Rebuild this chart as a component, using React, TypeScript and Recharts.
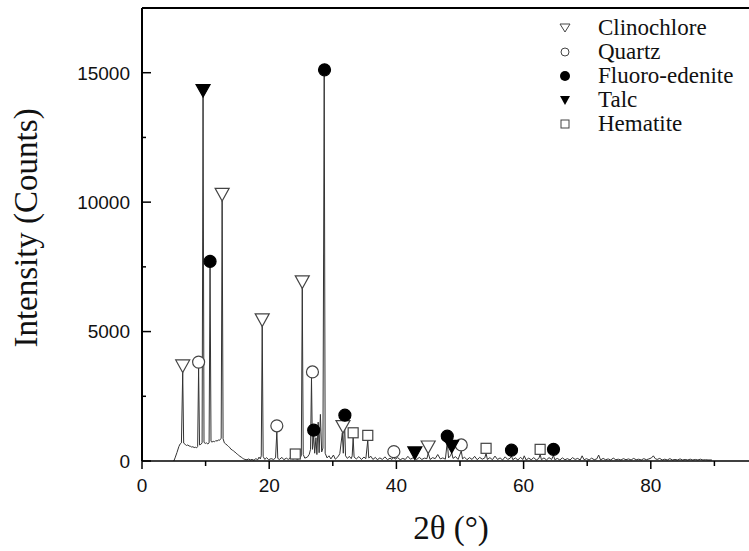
import { ComposedChart, Line, Scatter, XAxis, YAxis, ReferenceLine } from 'recharts';

// diffraction pattern, [2theta, counts]
const pattern: [number, number][] = [
  [5.0, 0], [5.2, 120], [5.5, 330], [5.8, 560], [6.0, 660], [6.2, 700], [6.4, 3430], [6.55, 690],
  [6.8, 640], [7.0, 600], [7.2, 620], [7.4, 580], [7.6, 570], [7.8, 540], [8.0, 550], [8.2, 520],
  [8.4, 530], [8.6, 510], [8.75, 560], [8.9, 3590], [9.05, 620], [9.25, 640], [9.45, 700],
  [9.6, 14070], [9.75, 720], [9.95, 680], [10.15, 700], [10.35, 660], [10.55, 700], [10.7, 7480],
  [10.85, 760], [11.0, 730], [11.2, 760], [11.4, 740], [11.6, 790], [11.8, 770], [12.0, 810],
  [12.2, 800], [12.45, 880], [12.6, 10060], [12.75, 860], [12.95, 700], [13.15, 660], [13.4, 610],
  [13.6, 560], [13.8, 520], [14.0, 450], [14.2, 430], [14.4, 380], [14.6, 350], [14.8, 300],
  [15.0, 260], [15.2, 220], [15.4, 180], [15.6, 150], [15.8, 110], [16.0, 80], [16.2, 60],
  [16.5, 50], [16.8, 80], [17.0, 40], [17.3, 60], [17.6, 30], [17.9, 90], [18.2, 50], [18.4, 150],
  [18.6, 80], [18.75, 200], [18.9, 5210], [19.05, 180], [19.3, 60], [19.6, 130], [19.9, 50],
  [20.3, 90], [20.7, 60], [21.0, 120], [21.2, 1130], [21.35, 100], [21.6, 60], [22.0, 140],
  [22.3, 50], [22.7, 110], [23.0, 60], [23.4, 150], [23.7, 70], [24.1, 120], [24.4, 60],
  [24.8, 110], [25.05, 200], [25.2, 6680], [25.35, 250], [25.6, 110], [26.0, 150], [26.3, 260],
  [26.5, 450], [26.65, 3210], [26.8, 450], [27.0, 960], [27.15, 300], [27.35, 900], [27.5, 250],
  [27.7, 1500], [27.85, 320], [28.05, 1800], [28.25, 350], [28.45, 500], [28.65, 14880],
  [28.8, 300], [29.1, 120], [29.4, 200], [29.7, 80], [30.1, 230], [30.4, 70], [30.8, 160],
  [31.1, 280], [31.5, 1090], [31.65, 300], [31.85, 1540], [32.0, 200], [32.3, 100], [32.6, 180],
  [32.9, 90], [33.05, 200], [33.2, 900], [33.35, 150], [33.7, 80], [34.1, 170], [34.5, 60],
  [34.9, 150], [35.2, 90], [35.5, 800], [35.65, 120], [36.0, 180], [36.3, 60], [36.7, 140],
  [37.0, 50], [37.4, 120], [37.8, 60], [38.2, 160], [38.6, 50], [39.0, 110], [39.3, 60],
  [39.6, 150], [39.8, 70], [40.2, 130], [40.6, 50], [41.0, 100], [41.4, 60], [41.8, 180],
  [42.2, 70], [42.6, 120], [42.9, 90], [43.2, 60], [43.6, 140], [44.0, 60], [44.4, 110],
  [44.8, 90], [45.0, 300], [45.3, 60], [45.7, 130], [46.1, 90], [46.5, 250], [46.9, 80],
  [47.3, 120], [47.7, 70], [48.0, 730], [48.2, 120], [48.5, 200], [48.7, 320], [48.9, 100],
  [49.3, 170], [49.7, 60], [50.2, 390], [50.4, 80], [50.7, 150], [51.1, 50], [51.5, 130],
  [51.9, 60], [52.3, 180], [52.7, 50], [53.1, 140], [53.5, 70], [53.9, 120], [54.1, 300],
  [54.3, 60], [54.7, 130], [55.1, 50], [55.5, 190], [55.9, 60], [56.3, 120], [56.7, 40],
  [57.1, 160], [57.5, 60], [57.9, 110], [58.1, 190], [58.3, 50], [58.7, 120], [59.1, 40],
  [59.5, 140], [59.9, 60], [60.1, 200], [60.4, 40], [60.8, 110], [61.2, 50], [61.6, 130],
  [62.0, 40], [62.4, 100], [62.6, 260], [62.8, 50], [63.2, 120], [63.6, 40], [64.0, 130],
  [64.4, 60], [64.7, 220], [64.9, 50], [65.3, 100], [65.7, 40], [66.1, 120], [66.5, 50],
  [66.9, 90], [67.3, 40], [67.7, 130], [68.1, 60], [68.5, 100], [68.9, 40], [69.2, 200],
  [69.5, 50], [69.9, 90], [70.3, 40], [70.7, 110], [71.1, 50], [71.5, 80], [71.8, 230],
  [72.1, 40], [72.5, 100], [72.9, 50], [73.3, 80], [73.7, 40], [74.1, 110], [74.5, 50],
  [74.9, 70], [75.3, 40], [75.7, 90], [76.1, 50], [76.5, 80], [76.9, 40], [77.3, 100],
  [77.7, 50], [78.1, 70], [78.5, 40], [78.9, 90], [79.3, 50], [79.7, 80], [80.1, 120],
  [80.4, 200], [80.7, 90], [81.0, 60], [81.4, 100], [81.8, 40], [82.2, 70], [82.6, 40],
  [83.0, 90], [83.4, 40], [83.8, 60], [84.2, 40], [84.6, 80], [85.0, 40], [85.4, 60],
  [85.8, 40], [86.2, 70], [86.6, 40], [87.0, 60], [87.4, 40], [87.8, 70], [88.2, 40],
  [88.6, 50], [89.0, 40], [89.6, 40],
];

// phase markers, [2theta, counts]
const clinochlore: [number, number][] = [[6.4, 3660], [12.6, 10290], [18.9, 5440], [25.2, 6910], [31.6, 1320], [45.0, 530]];
const quartz: [number, number][] = [[8.9, 3820], [21.2, 1360], [26.8, 3440], [39.6, 360], [50.2, 620]];
const fluoroEdenite: [number, number][] = [[10.7, 7710], [27.0, 1190], [28.7, 15110], [31.9, 1770], [48.0, 960], [58.1, 420], [64.7, 450]];
const talc: [number, number][] = [[9.6, 14300], [42.9, 300], [48.7, 550]];
const hematite: [number, number][] = [[24.1, 270], [33.2, 1090], [35.5, 990], [54.1, 490], [62.6, 450]];

const xTicks = [0, 10, 20, 30, 40, 50, 60, 70, 80, 90, 100];
const yTicks = [0, 2500, 5000, 7500, 10000, 12500, 15000, 17500];

const AXIS_X = 142;
const AXIS_Y = 461;
const serif = '"Liberation Serif", "Times New Roman", serif';
const sans = '"Liberation Sans", Arial, sans-serif';

const toPoints = (rows: [number, number][]) => rows.map(([x, y]) => ({ x, y }));

function DownTriangle({ cx, cy, filled }: any) {
  const w = 7;
  const h = 6.3;
  return (
    <polygon
      points={`${cx - w},${cy - h} ${cx + w},${cy - h} ${cx},${cy + h}`}
      fill={filled ? '#000' : '#fff'}
      stroke={filled ? '#000' : '#444'}
      strokeWidth={1.2}
    />
  );
}

function Dot({ cx, cy, filled }: any) {
  return <circle cx={cx} cy={cy} r={6} fill={filled ? '#000' : '#fff'} stroke={filled ? '#000' : '#444'} strokeWidth={1.2} />;
}

function Square({ cx, cy }: any) {
  const s = 5;
  return <rect x={cx - s} y={cy - s} width={s * 2} height={s * 2} fill="#fff" stroke="#444" strokeWidth={1.2} />;
}

function XTick({ x, payload }: any) {
  const major = payload.value % 20 === 0;
  return (
    <g>
      <line x1={x} x2={x} y1={AXIS_Y} y2={AXIS_Y + (major ? 8 : 5)} stroke="#000" strokeWidth={1.5} />
      {major && payload.value < 100 && (
        <text x={x} y={AXIS_Y + 31} textAnchor="middle" fontFamily={sans} fontSize={19} fill="#111">
          {payload.value}
        </text>
      )}
    </g>
  );
}

function YTick({ y, payload }: any) {
  const major = payload.value % 5000 === 0;
  return (
    <g>
      <line x1={AXIS_X} x2={AXIS_X + (major ? 9 : 4)} y1={y} y2={y} stroke="#000" strokeWidth={1.5} />
      {major && (
        <text x={AXIS_X - 12} y={y} dy="0.36em" textAnchor="end" fontFamily={sans} fontSize={19} fill="#111">
          {payload.value}
        </text>
      )}
    </g>
  );
}

const legendRows = [
  { name: 'Clinochlore', icon: <polygon points="4,5 14,5 9,13" fill="#fff" stroke="#444" strokeWidth={1} /> },
  { name: 'Quartz', icon: <circle cx={9} cy={9} r={4} fill="#fff" stroke="#444" strokeWidth={1} /> },
  { name: 'Fluoro-edenite', icon: <circle cx={9} cy={9} r={5} fill="#000" /> },
  { name: 'Talc', icon: <polygon points="4,5 14,5 9,14" fill="#000" /> },
  { name: 'Hematite', icon: <rect x={5} y={5} width={8} height={8} fill="#fff" stroke="#444" strokeWidth={1} /> },
];

export default function App() {
  return (
    <div style={{ position: 'fixed', left: 0, top: 0, width: 749, height: 551, overflow: 'hidden', background: '#fff' }}>
      <ComposedChart width={790} height={551} margin={{ top: 8, right: 12, bottom: 0, left: 0 }}>
        <XAxis
          type="number"
          dataKey="x"
          domain={[0, 100]}
          ticks={xTicks}
          interval={0}
          height={90}
          tickLine={false}
          tick={<XTick />}
          axisLine={{ stroke: '#000', strokeWidth: 1.5 }}
          allowDataOverflow
        />
        <YAxis
          type="number"
          dataKey="y"
          domain={[0, 17500]}
          ticks={yTicks}
          interval={0}
          width={142}
          tickLine={false}
          tick={<YTick />}
          axisLine={{ stroke: '#000', strokeWidth: 2 }}
          allowDataOverflow
        />
        <ReferenceLine y={17500} stroke="#000" strokeWidth={2} />
        <ReferenceLine x={100} stroke="#000" strokeWidth={2} />
        <Line
          data={toPoints(pattern)}
          dataKey="y"
          type="linear"
          stroke="#333"
          strokeWidth={1}
          dot={false}
          isAnimationActive={false}
        />
        <Scatter data={toPoints(clinochlore)} dataKey="y" isAnimationActive={false} shape={(p: any) => <DownTriangle cx={p.cx} cy={p.cy} filled={false} />} />
        <Scatter data={toPoints(quartz)} dataKey="y" isAnimationActive={false} shape={(p: any) => <Dot cx={p.cx} cy={p.cy} filled={false} />} />
        <Scatter data={toPoints(fluoroEdenite)} dataKey="y" isAnimationActive={false} shape={(p: any) => <Dot cx={p.cx} cy={p.cy} filled />} />
        <Scatter data={toPoints(talc)} dataKey="y" isAnimationActive={false} shape={(p: any) => <DownTriangle cx={p.cx} cy={p.cy} filled />} />
        <Scatter data={toPoints(hematite)} dataKey="y" isAnimationActive={false} shape={(p: any) => <Square cx={p.cx} cy={p.cy} />} />
        <text x={37} y={228} transform="rotate(-90, 37, 228)" textAnchor="middle" fontFamily={serif} fontSize={33} fill="#111">
          Intensity (Counts)
        </text>
        <text x={451} y={539} textAnchor="middle" fontFamily={serif} fontSize={33} fill="#111">
          2θ (°)
        </text>
      </ComposedChart>
      <div style={{ position: 'absolute', left: 556, top: 16, fontFamily: serif, fontSize: 23, color: '#111' }}>
        {legendRows.map((row) => (
          <div key={row.name} style={{ display: 'flex', alignItems: 'center', height: 24 }}>
            <svg width={18} height={18} style={{ marginRight: 24 }}>
              {row.icon}
            </svg>
            <span style={{ lineHeight: '24px' }}>{row.name}</span>
          </div>
        ))}
      </div>
    </div>
  );
}
